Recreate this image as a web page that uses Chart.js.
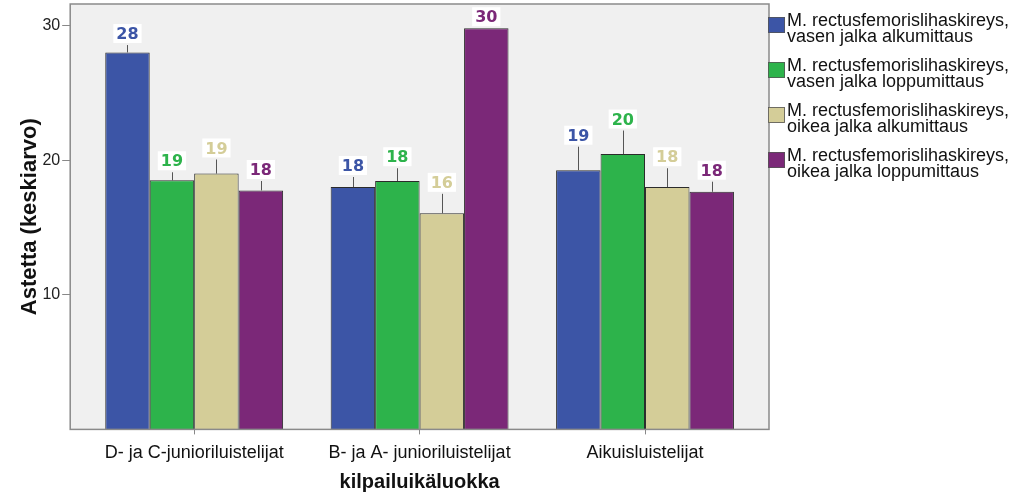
<!DOCTYPE html>
<html><head><meta charset="utf-8">
<script src="https://cdn.jsdelivr.net/npm/chart.js@4.4.0/dist/chart.umd.min.js"></script>
<style>html,body{margin:0;padding:0;background:#fff;}#wrap{width:1023px;height:497px;position:relative;}</style>
</head><body><div id="wrap"><canvas id="c" width="1023" height="497"></canvas></div>
<script>
const categories = ["D- ja C-junioriluistelijat", "B- ja A- junioriluistelijat", "Aikuisluistelijat"];
const seriesNames = [
  ["M. rectusfemorislihaskireys,", "vasen jalka alkumittaus"],
  ["M. rectusfemorislihaskireys,", "vasen jalka loppumittaus"],
  ["M. rectusfemorislihaskireys,", "oikea jalka alkumittaus"],
  ["M. rectusfemorislihaskireys,", "oikea jalka loppumittaus"]
];
const vasenAlku = [28.0, 18.0, 19.25];
const vasenLoppu = [18.5, 18.45, 20.45];
const oikeaAlku = [19.0, 16.05, 18.0];
const oikeaLoppu = [17.75, 29.8, 17.65];
const vasenAlkuErr = [28.55, 18.75, 21.0];
const vasenLoppuErr = [19.1, 19.4, 22.2];
const oikeaAlkuErr = [20.05, 17.5, 19.4];
const oikeaLoppuErr = [18.45, 29.8, 18.4];
const valueLabels = [[28, 18, 19], [19, 18, 20], [19, 16, 18], [18, 30, 18]];
const yTicks = [10, 20, 30];
const colors = ["#3C55A6", "#2DB34B", "#D4CD98", "#7B2878"];

const values = [vasenAlku, vasenLoppu, oikeaAlku, oikeaLoppu];
const errs = [vasenAlkuErr, vasenLoppuErr, oikeaAlkuErr, oikeaLoppuErr];
const FONT = "Arial, 'Liberation Sans', sans-serif";

const datasets = values.map((v, i) => ({
  label: seriesNames[i].join(" "),
  data: v.map((val, ci) => ({ x: ci, y: val })),
  backgroundColor: colors[i],
  borderColor: "#2b2b2b",
  borderWidth: 1,
  borderSkipped: "bottom",
  barPercentage: 1.0,
  categoryPercentage: 0.789
}));

const framePlugin = {
  id: "frame",
  beforeDatasetsDraw(chart) {
    const {ctx, chartArea: a} = chart;
    ctx.save();
    ctx.fillStyle = "#F0F0F0";
    ctx.fillRect(a.left, a.top, a.right - a.left, a.bottom - a.top);
    ctx.restore();
  },
  afterDatasetsDraw(chart) {
    const {ctx, chartArea: a} = chart;
    ctx.save();
    ctx.strokeStyle = "#8a8a8a";
    ctx.lineWidth = 1.5;
    ctx.strokeRect(a.left, a.top, a.right - a.left, a.bottom - a.top);
    const y = chart.scales.y;
    chart.data.datasets.forEach((ds, di) => {
      const meta = chart.getDatasetMeta(di);
      meta.data.forEach((bar, i) => {
        const top = y.getPixelForValue(errs[di][i]);
        const bt = bar.y;
        ctx.strokeStyle = "#555";
        ctx.lineWidth = 1;
        if (top < bt - 0.5) {
          ctx.beginPath();
          ctx.moveTo(Math.round(bar.x) + 0.5, bt);
          ctx.lineTo(Math.round(bar.x) + 0.5, top);
          ctx.stroke();
        }
        const txt = String(valueLabels[di][i]);
        ctx.font = "bold 16px 'DejaVu Sans'";
        const w = ctx.measureText(txt).width + 6;
        const cy = top - 11;
        ctx.fillStyle = "#ffffff";
        ctx.fillRect(bar.x - w / 2, cy - 10, w, 19);
        ctx.fillStyle = colors[di];
        ctx.textAlign = "center";
        ctx.textBaseline = "middle";
        ctx.fillText(txt, bar.x, cy + 1);
      });
    });
    ctx.restore();
  },
  afterDraw(chart) {
    const {ctx, chartArea: a} = chart;
    ctx.save();
    const x0 = a.right - 1;
    let yy = 17;
    ctx.font = "18px " + FONT;
    ctx.textBaseline = "middle";
    ctx.textAlign = "left";
    seriesNames.forEach((lines, i) => {
      ctx.fillStyle = colors[i];
      ctx.fillRect(x0, yy, 17, 16);
      ctx.strokeStyle = "#555";
      ctx.lineWidth = 0.8;
      ctx.strokeRect(x0 + 0.5, yy + 0.5, 16, 15);
      ctx.fillStyle = "#111";
      ctx.fillText(lines[0], x0 + 19, yy + 4);
      ctx.fillText(lines[1], x0 + 19, yy + 20);
      yy += 45;
    });
    ctx.restore();
  }
};

new Chart(document.getElementById("c"), {
  type: "bar",
  data: { datasets },
  options: {
    responsive: false,
    animation: false,
    devicePixelRatio: 1,
    layout: { padding: { top: 4, right: 254, left: 17, bottom: 1 } },
    plugins: { legend: { display: false }, tooltip: { enabled: false } },
    scales: {
      x: {
        type: "linear",
        min: -0.55,
        max: 2.55,
        offset: false,
        afterBuildTicks(scale) { scale.ticks = categories.map((c, i) => ({ value: i })); },
        grid: { display: true, offset: false, drawOnChartArea: false, drawTicks: true, tickLength: 5, color: "#888" },
        border: { display: false },
        ticks: { color: "#111", font: { family: FONT, size: 18 }, padding: 8, autoSkip: false, maxRotation: 0,
          callback: (v) => categories[Math.round(v)] },
        title: { display: true, text: "kilpailuikäluokka", color: "#111", font: { family: FONT, size: 20, weight: "bold" }, padding: { top: -2, bottom: 2 } }
      },
      y: {
        min: 0,
        max: 31.6,
        afterBuildTicks(scale) { scale.ticks = yTicks.map(v => ({ value: v })); },
        grid: { display: true, drawOnChartArea: false, drawTicks: true, tickLength: 8, color: "#888" },
        border: { display: false },
        ticks: { color: "#222", font: { family: FONT, size: 16, lineHeight: 0.2 }, padding: 2 },
        title: { display: true, text: "Astetta (keskiarvo)", color: "#111", font: { family: FONT, size: 22, weight: "bold" }, padding: { top: 0, bottom: -3 } }
      }
    }
  },
  plugins: [framePlugin]
});
</script></body></html>
